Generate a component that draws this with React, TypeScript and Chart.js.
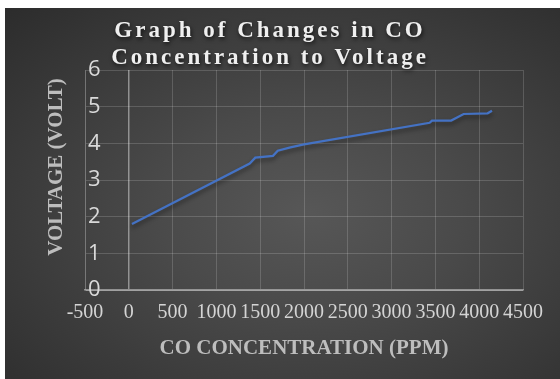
import React, { useEffect, useRef } from "react";
import { Chart, registerables } from "chart.js";

Chart.register(...registerables);

const coPpm = [36, 1380, 1444, 1646, 1700, 1845, 2000, 3434, 3461, 3680, 3822, 4096, 4146];
const voltage = [1.8, 3.45, 3.61, 3.66, 3.8, 3.89, 3.97, 4.56, 4.62, 4.62, 4.8, 4.82, 4.89];
const titleLines = ["Graph of Changes in CO", "Concentration to Voltage"];
const xTitle = "CO CONCENTRATION (PPM)";
const yTitle = "VOLTAGE (VOLT)";

const GRID = "rgba(255,255,255,0.16)";
const AXIS = "rgba(200,200,200,0.6)";
const SERIF = "'Liberation Serif', 'Times New Roman', serif";

const textPlugin = {
  id: "customText",
  afterDraw(chart: any) {
    const ctx = chart.ctx as CanvasRenderingContext2D;
    ctx.save();
    ctx.font = `bold 23px ${SERIF}`;
    (ctx as any).letterSpacing = "3px";
    ctx.fillStyle = "#efefef";
    ctx.textAlign = "center";
    ctx.textBaseline = "alphabetic";
    ctx.shadowColor = "rgba(0,0,0,0.7)";
    ctx.shadowBlur = 4;
    ctx.shadowOffsetX = 1;
    ctx.shadowOffsetY = 2;
    ctx.fillText(titleLines[0], 265, 29);
    ctx.fillText(titleLines[1], 265, 55.5);
    ctx.restore();

    ctx.save();
    ctx.font = `bold 21px ${SERIF}`;
    ctx.fillStyle = "#bdbdbd";
    ctx.textAlign = "center";
    ctx.textBaseline = "middle";
    ctx.translate(52, 159);
    ctx.rotate(-Math.PI / 2);
    ctx.fillText(yTitle, 0, 0);
    ctx.restore();
  },
  beforeDatasetDraw(chart: any) {
    const ctx = chart.ctx as CanvasRenderingContext2D;
    ctx.save();
    ctx.shadowColor = "rgba(0,0,0,0.45)";
    ctx.shadowBlur = 4;
    ctx.shadowOffsetY = 3;
  },
  afterDatasetDraw(chart: any) {
    chart.ctx.restore();
  },
};

export default function App() {
  const ref = useRef<HTMLCanvasElement | null>(null);
  useEffect(() => {
    if (!ref.current) return;
    const chart = new Chart(ref.current, {
      type: "scatter",
      data: {
        datasets: [
          {
            data: coPpm.map((x, i) => ({ x, y: voltage[i] })),
            showLine: true,
            borderColor: "#4472C4",
            borderWidth: 2.25,
            pointRadius: 0,
            tension: 0,
          },
        ],
      },
      plugins: [textPlugin],
      options: {
        responsive: false,
        animation: false,
        layout: { padding: { left: 0, right: 37, top: 62, bottom: 0 } },
        plugins: { legend: { display: false }, tooltip: { enabled: false }, title: { display: false } },
        scales: {
          x: {
            type: "linear",
            min: -500,
            max: 4500,
            afterFit: (s: any) => {
              s.height = 89;
            },
            ticks: {
              stepSize: 500,
              color: "#d4d4d4",
              font: { family: SERIF, size: 20 },
              padding: 11,
              maxRotation: 0,
              autoSkip: false,
              callback: (v: any) => String(v),
            },
            grid: {
              drawTicks: false,
              color: (c: any) => (c.tick && c.tick.value === 0 ? AXIS : GRID),
              lineWidth: (c: any) => (c.tick && c.tick.value === 0 ? 1.5 : 1),
            },
            border: { color: AXIS, width: 1.5 },
            title: {
              display: true,
              text: xTitle,
              color: "#bdbdbd",
              font: { family: SERIF, size: 21, weight: "bold" },
              padding: { top: 0, bottom: 18 },
            },
          },
          y: {
            min: 0,
            max: 6,
            afterFit: (s: any) => {
              s.width = 80;
            },
            ticks: {
              stepSize: 1,
              color: "#d9d9d9",
              font: { family: "'Open Sans', sans-serif", size: 22 },
              mirror: true,
              padding: 3,
            },
            grid: {
              drawTicks: false,
              color: (c: any) => (c.tick && c.tick.value === 0 ? AXIS : GRID),
              lineWidth: 1,
            },
            border: { color: GRID, width: 1 },
          },
        },
      },
    });
    return () => chart.destroy();
  }, []);

  return (
    <div
      style={{
        position: "fixed",
        left: 5,
        top: 8,
        width: 555,
        height: 371,
        background: "radial-gradient(ellipse at 55% 55%, #575757 0%, #4a4a4a 35%, #2c2c2c 100%)",
      }}
    >
      <canvas ref={ref} width={555} height={371} style={{ display: "block" }} />
    </div>
  );
}
